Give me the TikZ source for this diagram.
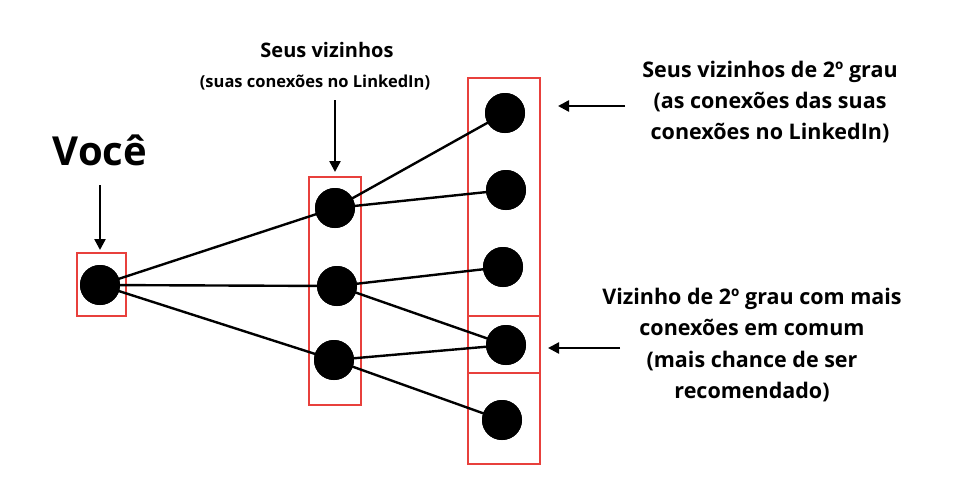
\documentclass[tikz,border=0pt]{standalone}
\usepackage{fontspec}
\setmainfont{Open Sans}[BoldFont={* Bold}]
\usetikzlibrary{arrows.meta}
\definecolor{boxred}{HTML}{E8403C}
\begin{document}
\begin{tikzpicture}[x=1pt,y=-1pt,
 dot/.style={circle,fill=black,minimum size=40pt,inner sep=0pt},
 rbox/.style={draw=boxred,line width=2pt},
 edge/.style={line width=2.4pt},
 arr/.style={line width=2.4pt,-{Triangle[length=11pt,width=11pt]}},
 lbl/.style={font=\bfseries,align=center,inner sep=0pt}]
\useasboundingbox (0,0) rectangle (971,496);
\draw[rbox] (77,253) rectangle (126,316);
\draw[rbox] (309,177) rectangle (361,405);
\draw[rbox] (468,78) rectangle (540,464);
\draw[rbox] (468,316) -- (540,316) (468,373) -- (540,373);
\node[dot] (y) at (100,285) {};
\node[dot] (n1) at (335,208) {};
\node[dot] (n2) at (337,286) {};
\node[dot] (n3) at (334,360) {};
\node[dot] (s1) at (505,113) {};
\node[dot] (s2) at (506,190) {};
\node[dot] (s3) at (503,267) {};
\node[dot] (s4) at (506,345) {};
\node[dot] (s5) at (502,420) {};
\foreach \a/\b in {y/n1,y/n2,y/n3,n1/s1,n1/s2,n2/s3,n2/s4,n3/s4,n3/s5}
  \draw[edge] (\a.center) -- (\b.center);
\foreach \n in {y,n1,n2,n3,s1,s2,s3,s4,s5} \node[dot] at (\n) {};
\node[lbl,font=\bfseries\fontsize{40}{46}\selectfont] (tv) at (100,150) {Você};
\coordinate (tva) at (100,185);
\draw[arr] (tva) -- (y.north |- 0,250);
\node[lbl,font=\bfseries\fontsize{20}{24}\selectfont] (t1) at (327,50) {Seus vizinhos};
\node[lbl,font=\bfseries\fontsize{16.5}{20}\selectfont] (t2) at (315,83) {(suas conexões no LinkedIn)};
\coordinate (a1) at (335,100); \coordinate (a1e) at (335,172);
\draw[arr] (a1) -- (a1e);
\node[lbl,font=\bfseries\fontsize{21.5}{31}\selectfont] (t3) at (770,102) {Seus vizinhos de 2º grau\\(as conexões das suas\\conexões no LinkedIn)};
\coordinate (a2) at (625,106); \coordinate (a2e) at (558,106);
\draw[arr] (a2) -- (a2e);
\node[lbl,font=\bfseries\fontsize{21.5}{31.5}\selectfont] (t4) at (752,345) {Vizinho de 2º grau com mais\\conexões em comum\\(mais chance de ser\\recomendado)};
\coordinate (a3) at (620,348); \coordinate (a3e) at (548,348);
\draw[arr] (a3) -- (a3e);
\end{tikzpicture}
\end{document}
